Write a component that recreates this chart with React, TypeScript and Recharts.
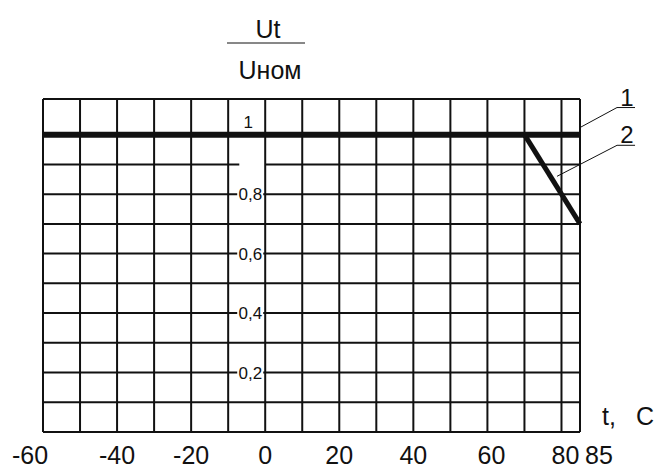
import { LineChart, Line, XAxis, YAxis, ReferenceLine, ReferenceDot } from "recharts";

// temperature, °C
const tempTicks = [-60, -40, -20, 0, 20, 40, 60, 80, 85];
const gridTemps = [-60, -50, -40, -30, -20, -10, 0, 10, 20, 30, 40, 50, 60, 70, 80, 85];
// Ut / Uном
const gridRatios = [0, 0.1, 0.2, 0.3, 0.4, 0.5, 0.6, 0.7, 0.8, 1.0, 1.12];
const ratioLabels = [
  { value: 1, text: "1" },
  { value: 0.8, text: "0,8" },
  { value: 0.6, text: "0,6" },
  { value: 0.4, text: "0,4" },
  { value: 0.2, text: "0,2" },
];

// curve 1 — flat over whole range, curve 2 — derated above 70 °C
const curve1 = [
  { t: -60, u: 1 },
  { t: 85, u: 1 },
];
const curve2 = [
  { t: 70, u: 1 },
  { t: 85, u: 0.7 },
];

const tags = [
  { text: "1", t: 85, u: 1.024, dx: 37, dy: -20 },
  { text: "2", t: 78.8, u: 0.86, dx: 60, dy: -31 },
];

const FONT = "'Liberation Sans', Arial, sans-serif";
const INK = "#111";

// edge labels sit a little outside their grid lines in the original
const tickNudge: Record<string, number> = { "-60": -13, "60": 4, "80": 4, "85": 19 };

function TempTick({ x, y, payload }: any) {
  const v = String(payload.value);
  return (
    <text x={x + (tickNudge[v] ?? 0)} y={y + 24} textAnchor="middle" fontSize={25} fontFamily={FONT} fill={INK}>
      {v}
    </text>
  );
}

function RatioLabel({ viewBox, text }: any) {
  const { x, y } = viewBox;
  if (text === "1") {
    return (
      <text x={x - 17} y={y - 7} textAnchor="middle" fontSize={17} fontFamily={FONT} fill={INK}>
        1
      </text>
    );
  }
  return (
    <g>
      <rect x={x - 28} y={y - 8} width={26} height={16} fill="#fff" />
      <text x={x - 3} y={y + 6} textAnchor="end" fontSize={17} fontFamily={FONT} fill={INK}>
        {text}
      </text>
    </g>
  );
}

function CurveTag({ viewBox, text, dx, dy }: any) {
  const { x, y } = viewBox;
  return (
    <g>
      <line x1={x} y1={y} x2={x + dx} y2={y + dy} stroke={INK} strokeWidth={1} />
      <line x1={x + dx} y1={y + dy} x2={x + dx + 18} y2={y + dy} stroke={INK} strokeWidth={1} />
      <text x={x + dx + 10} y={y + dy - 2} textAnchor="middle" fontSize={24} fontFamily={FONT} fill={INK}>
        {text}
      </text>
    </g>
  );
}

export default function App() {
  return (
    <div style={{ position: "fixed", left: 0, top: 0, width: 658, height: 468, background: "#fff" }}>
      <LineChart width={658} height={468} margin={{ top: 99, right: 78, bottom: 0, left: 43 }}>
        <XAxis
          type="number"
          dataKey="t"
          domain={[-60, 85]}
          ticks={tempTicks}
          interval={0}
          axisLine={false}
          tickLine={false}
          tick={<TempTick />}
          height={36}
          allowDuplicatedCategory={false}
        />
        <YAxis type="number" domain={[0, 1.12]} hide />

        {gridTemps.map((t) => (
          <ReferenceLine key={"v" + t} x={t} stroke={INK} strokeWidth={2} />
        ))}
        {gridRatios.map((u) => (
          <ReferenceLine key={"h" + u} y={u} stroke={INK} strokeWidth={2} />
        ))}
        {/* 0.9 line is broken just left of the 0 °C line */}
        <ReferenceLine segment={[{ x: -60, y: 0.9 }, { x: -7, y: 0.9 }]} stroke={INK} strokeWidth={2} />
        <ReferenceLine segment={[{ x: 0, y: 0.9 }, { x: 85, y: 0.9 }]} stroke={INK} strokeWidth={2} />

        {ratioLabels.map((l) => (
          <ReferenceDot
            key={"l" + l.value}
            x={0}
            y={l.value}
            r={0}
            stroke="none"
            label={{ content: (p: any) => <RatioLabel {...p} text={l.text} /> }}
          />
        ))}

        <Line data={curve1} dataKey="u" stroke={INK} strokeWidth={6} dot={false} isAnimationActive={false} />
        <Line data={curve2} dataKey="u" stroke={INK} strokeWidth={5} dot={false} isAnimationActive={false} />

        {tags.map((g) => (
          <ReferenceDot
            key={"g" + g.text}
            x={g.t}
            y={g.u}
            r={0}
            stroke="none"
            ifOverflow="visible"
            label={{ content: (p: any) => <CurveTag {...p} text={g.text} dx={g.dx} dy={g.dy} /> }}
          />
        ))}
      </LineChart>

      <svg width={658} height={468} style={{ position: "absolute", left: 0, top: 0, pointerEvents: "none" }}>
        <text x={268} y={38} textAnchor="middle" fontSize={25} fontFamily={FONT} fill={INK}>
          Ut
        </text>
        <line x1={227} y1={43} x2={305} y2={43} stroke={INK} strokeWidth={1} />
        <text x={270} y={79} textAnchor="middle" fontSize={25} fontFamily={FONT} fill={INK}>
          Uном
        </text>
        <text x={602} y={425} fontSize={25} fontFamily={FONT} fill={INK}>
          t,
        </text>
        <text x={636} y={425} fontSize={25} fontFamily={FONT} fill={INK}>
          C
        </text>
      </svg>
    </div>
  );
}
